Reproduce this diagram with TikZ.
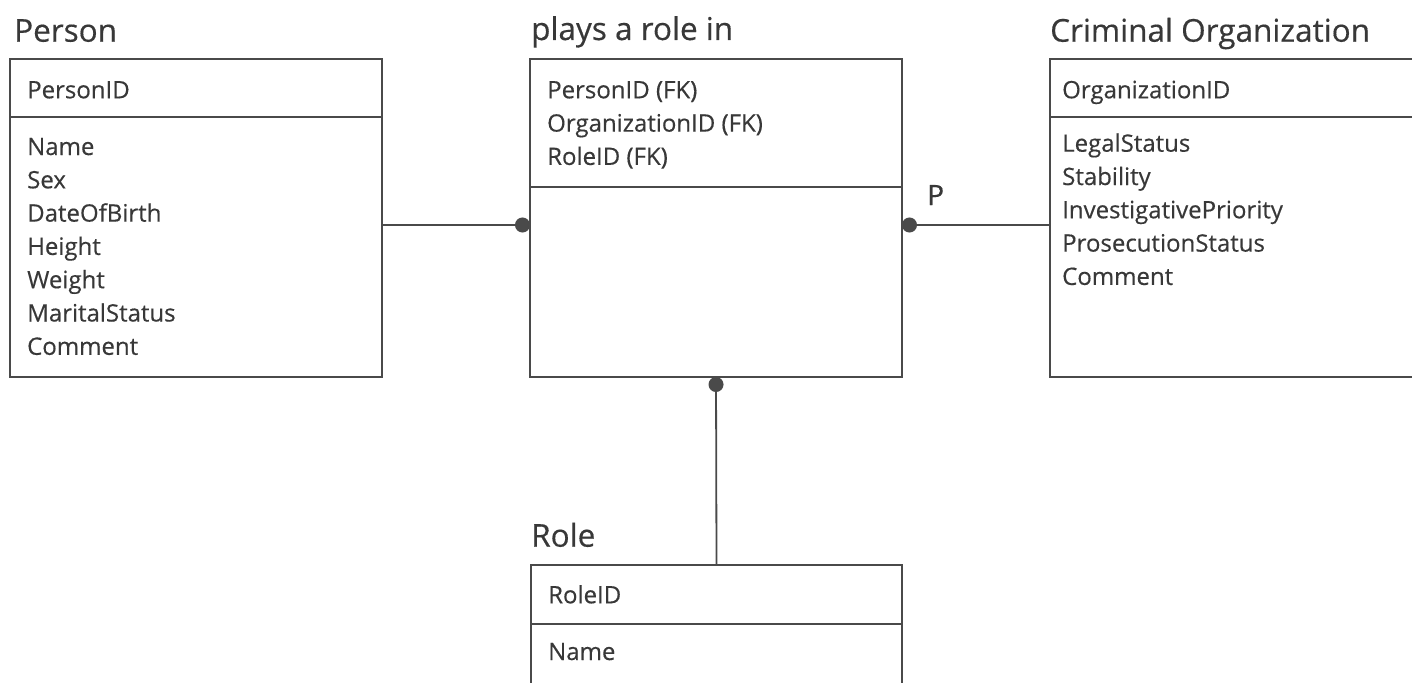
\documentclass[tikz,border=0pt]{standalone}
\usepackage{fontspec}
\setmainfont[FakeBold=0.4]{Open Sans}
\usetikzlibrary{arrows.meta}
\definecolor{ink}{HTML}{383838}
\definecolor{rulegray}{HTML}{4A4A4A}
\begin{document}
\begin{tikzpicture}[x=1pt,y=-1pt,
  entity/.style={draw=rulegray, line width=1.8pt, rectangle, anchor=north west,
                 inner sep=0pt, outer sep=0pt},
  entitytitle/.style={anchor=base west, inner sep=0pt, text=ink,
                 font=\fontsize{31.5}{36}\selectfont},
  attr/.style={anchor=base west, inner sep=0pt, text=ink,
                 font=\fontsize{24}{28}\selectfont},
  divider/.style={draw=rulegray, line width=1.8pt},
  conn/.style={draw=rulegray, line width=1.8pt, -{Circle[length=15pt]}},
]
\useasboundingbox (0,0) rectangle (1412,682);
\clip (0,0) rectangle (1412,682);

% entity boxes
\node[entity, minimum width=372, minimum height=318] (person) at (10,59) {};
\node[entity, minimum width=372, minimum height=318] (rel) at (530,59) {};
\node[entity, minimum width=400, minimum height=318] (org) at (1050,59) {};
\node[entity, minimum width=371, minimum height=200] (role) at (531,565) {};

% key / attribute dividers
\draw[divider] ([yshift=-58pt]person.north west) -- ([yshift=-58pt]person.north east);
\draw[divider] ([yshift=-128pt]rel.north west) -- ([yshift=-128pt]rel.north east);
\draw[divider] ([yshift=-58pt]org.north west) -- ([yshift=-58pt]org.north east);
\draw[divider] ([yshift=-59pt]role.north west) -- ([yshift=-59pt]role.north east);

% titles
\node[entitytitle] (tperson) at (14,41.7) {Person};
\node[entitytitle] (trel) at (531,40) {plays a role in};
\node[entitytitle] (torg) at (1050,41.7) {Criminal Organization};
\node[entitytitle] (trole) at (531,546.7) {Role};

% Person
\node[attr] (pkey) at (27,98.3) {PersonID};
\foreach \t [count=\i from 0] in {Name,Sex,DateOfBirth,Height,Weight,MaritalStatus,Comment}
  \node[attr] (pa\i) at (27,155+33.3*\i) {\t};

% plays a role in
\foreach \t [count=\i from 0] in {PersonID (FK),OrganizationID (FK),RoleID (FK)}
  \node[attr] (rk\i) at (547,98.3+33.3*\i) {\t};

% Criminal Organization
\node[attr] (okey) at (1062,98.3) {OrganizationID};
\foreach \t [count=\i from 0] in {LegalStatus,Stability,InvestigativePriority,ProsecutionStatus,Comment}
  \node[attr] (oa\i) at (1062,151.7+33.3*\i) {\t};

% Role
\node[attr] (rolekey) at (548,603.3) {RoleID};
\node[attr] (rolea0) at (548,660) {Name};

% relationships
\draw[conn] (person.east |- 0,225) -- (rel.west |- 0,225);
\draw[conn] (org.west |- 0,225) -- (rel.east |- 0,225);
\draw[conn] (role.north) -- (rel.south);
\node[entitytitle, font=\fontsize{28}{32}\selectfont] (plabel) at (927,205) {P};
\end{tikzpicture}
\end{document}
